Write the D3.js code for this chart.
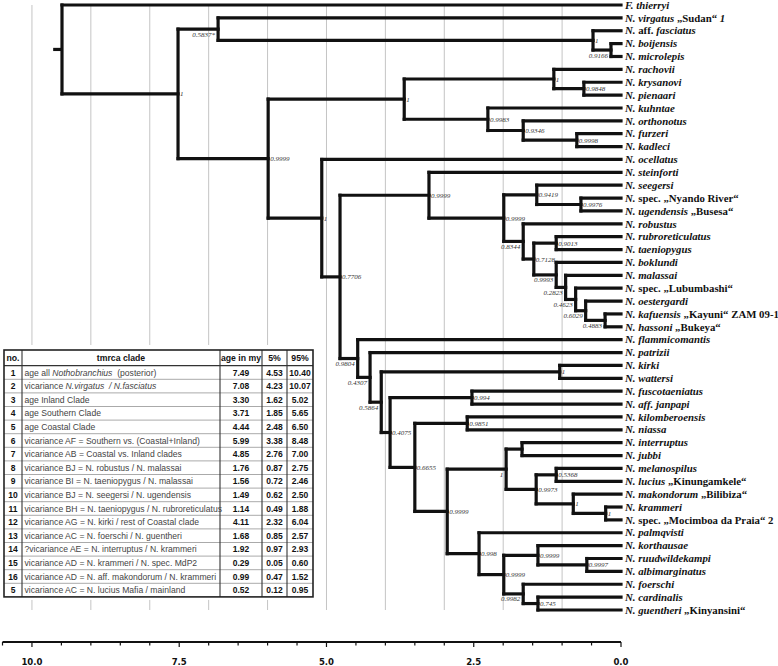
<!DOCTYPE html>
<html><head><meta charset="utf-8">
<script src="https://cdn.jsdelivr.net/npm/d3@7"></script>
<style>
html,body{margin:0;padding:0;background:#fff;}
svg{display:block;}
text{white-space:pre;}
</style></head>
<body>
<svg id="c" width="778" height="666"></svg>
<script>
// ---------- DATA ----------
const tipNames = [
 "_F. thierryi_","_N. virgatus_ „Sudan“ _1_","_N._ aff. _fasciatus_","_N. boijensis_","_N. microlepis_",
 "_N. rachovii_","_N. krysanovi_","_N. pienaari_","_N. kuhntae_","_N. orthonotus_","_N. furzeri_","_N. kadleci_",
 "_N. ocellatus_","_N. steinforti_","_N. seegersi_","_N._ spec. „Nyando River“","_N. ugendensis_ „Busesa“",
 "_N. robustus_","_N. rubroreticulatus_","_N. taeniopygus_","_N. boklundi_","_N. malassai_",
 "_N._ spec. „Lubumbashi“","_N. oestergardi_","_N. kafuensis_ „Kayuni“ ZAM 09-1","_N. hassoni_ „Bukeya“",
 "_N. flammicomantis_","_N. patrizii_","_N. kirki_","_N. wattersi_","_N. fuscotaeniatus_","_N. aff. janpapi_",
 "_N. kilomberoensis_","_N. niassa_","_N. interruptus_","_N. jubbi_","_N. melanospilus_",
 "_N. lucius_ „Kinungamkele“","_N. makondorum_ „Bilibiza“","_N. krammeri_","_N._ spec. „Mocimboa da Praia“ 2",
 "_N. palmqvisti_","_N. korthausae_","_N. ruudwildekampi_","_N. albimarginatus_","_N. foerschi_",
 "_N. cardinalis_","_N. guentheri_ „Kinyansini“"
];
// internal nodes: id, age (My), support label, children (numbers = tip index, strings = node id)
const nodeIds      = ["R","A","B","Fa","Fb","C","D","E","E2","F","F2","F3","G","H","S","T","U","W","V","X","Y","Z","Z2","Z3","Z4","Z5","I","J","K","K1","L","M","N","O","P","Q","Q1","Q2","Q3","Q4","Q5","Pm","Pn","Po","Pp","Pq","Pr"];
const nodeAges     = [9.49,7.52,6.84,0.475,0.17,5.99,3.68,1.14,0.63,2.26,1.66,0.75,5.08,4.77,3.26,1.99,1.43,0.68,1.66,1.48,1.10,1.10,0.94,0.77,0.60,0.27,4.47,4.26,4.07,1.04,3.92,2.53,3.50,2.61,2.95,1.95,1.68,1.44,1.10,0.81,0.26,2.41,1.99,1.41,0.58,1.66,1.41];
const nodeSupport  = ["","1","0.5837*","1","0.9166","0.9999","1","1","0.9848","0.9983","0.9346","0.9998","1","0.7706","0.9999","0.9999","0.9419","0.9976","0.8344","0.7128","0.9013","0.9993","0.2823","0.4623","0.6029","0.4883","0.9804","0.4307","0.5864","1","0.4075","0.994","0.6655","0.9851","0.9999","1","","0.9973","0.5368","1","1","0.998","0.9999","0.9999","0.9997","0.9982","0.745"];
const nodeChildren = [[0,"A"],["B","C"],[1,"Fa"],[2,"Fb"],[3,4],["D","G"],["E","F"],[5,"E2"],[6,7],[8,"F2"],[9,"F3"],[10,11],
 [12,"H"],["S","I"],[13,"T"],["U","V"],[14,"W"],[15,16],[17,"X"],["Y","Z"],[18,19],[20,"Z2"],[21,"Z3"],[22,"Z4"],[23,"Z5"],[24,25],
 [26,"J"],[27,"K"],["K1","L"],[28,29],["M","N"],[30,31],["O","P"],[32,33],["Q","Pm"],["Q1","Q2"],[34,35],["Q3","Q4"],[36,37],[38,"Q5"],[39,40],
 [41,"Pn"],["Po","Pq"],[42,"Pp"],[43,44],[45,"Pr"],[46,47]];
// support labels drawn below the incoming branch (left of node)
const belowLabelNodes = ["B","Fb","V","Z","Z2","Z3","Z4","Z5","I","J","K","Q","Pq"];

const axisTicks = [10.0, 7.5, 5.0, 2.5, 0.0];

const tableHead = ["no.","tmrca clade","age in my","5%","95%"];
const tableNo   = [1,2,3,4,5,6,7,8,9,10,11,12,13,14,15,16,5];
const tableClade = [
 "age all _Nothobranchius_  (posterior)",
 "vicariance _N.virgatus  / N.fasciatus_",
 "age Inland Clade","age Southern Clade","age Coastal Clade",
 "vicariance AF = Southern vs. (Coastal+Inland)",
 "vicariance AB = Coastal vs. Inland clades",
 "vicariance BJ = N. robustus / N. malassai",
 "vicariance BI = N. taeniopygus / N. malassai",
 "vicariance BJ = N. seegersi / N. ugendensis",
 "vicariance BH = N. taeniopygus / N. rubroreticulatus",
 "vicariance AG = N. kirki / rest of Coastal clade",
 "vicariance AC = N. foerschi / N. guentheri",
 "?vicariance AE = N. interruptus / N. krammeri",
 "vicariance AD = N. krammeri / N. spec. MdP2",
 "vicariance AD = N. aff. makondorum / N. krammeri",
 "vicariance AC = N. lucius Mafia / mainland"
];
const tableAge = ["7.49","7.08","3.30","3.71","4.44","5.99","4.85","1.76","1.56","1.49","1.14","4.11","1.68","1.92","0.29","0.99","0.52"];
const tableLo  = ["4.53","4.23","1.62","1.85","2.48","3.38","2.76","0.87","0.72","0.62","0.49","2.32","0.85","0.97","0.05","0.47","0.12"];
const tableHi  = ["10.40","10.07","5.02","5.65","6.50","8.48","7.00","2.75","2.46","2.50","1.88","6.04","2.57","2.93","0.60","1.52","0.95"];

// ---------- BUILD ----------
const svg = d3.select("#c");
const x = d3.scaleLinear().domain([10.5, 0]).range([2.5, 621]);
const y = d3.scaleLinear().domain([0, tipNames.length - 1]).range([5, 610]);

const nodeMap = {};
nodeIds.forEach((id,i)=> nodeMap[id] = {id, age:nodeAges[i], sup:nodeSupport[i], kids:nodeChildren[i]});
function build(ref){
  if (typeof ref === "number") return {tip:ref, name:tipNames[ref], age:0};
  const n = nodeMap[ref];
  return {id:n.id, age:n.age, sup:n.sup, children:n.kids.map(build)};
}
const root = d3.hierarchy(build("R"));
root.eachAfter(d=>{
  if (!d.children) d.yy = y(d.data.tip);
  else d.yy = (d.children[0].yy + d.children[d.children.length-1].yy)/2;
  d.xx = x(d.data.age);
});

// gridlines
const grid = svg.append("g");
grid.selectAll("line").data(d3.range(1, 11)).join("line")
  .attr("x1", d=>x(d)).attr("x2", d=>x(d)).attr("y1", 5).attr("y2", 610)
  .attr("stroke", "#c4c4c4").attr("stroke-width", 1);

// branches
const br = svg.append("g").attr("stroke","#111").attr("stroke-width",3.2).attr("fill","none").attr("stroke-linecap","square");
root.each(d=>{
  if (d.children){
    const a = d.children[0].yy, b = d.children[d.children.length-1].yy;
    br.append("line").attr("x1", d.xx).attr("x2", d.xx).attr("y1", a).attr("y2", b);
    d.children.forEach(c=>{
      br.append("line").attr("x1", d.xx).attr("x2", c.xx).attr("y1", c.yy).attr("y2", c.yy);
    });
  }
});
// root stub
br.append("line").attr("x1", x(root.data.age + 0.15)).attr("x2", root.xx).attr("y1", root.yy).attr("y2", root.yy).attr("stroke-linecap","butt");

// support labels
const sl = svg.append("g").attr("font-family","'Liberation Serif','Times New Roman',serif").attr("font-style","italic")
  .attr("font-size", 7).attr("fill","#333");
root.each(d=>{
  if (!d.children || !d.data.sup) return;
  if (belowLabelNodes.includes(d.data.id)){
    sl.append("text").attr("x", d.xx - 3).attr("y", d.yy + 7.5).attr("text-anchor","end").text(d.data.sup);
  } else {
    sl.append("text").attr("x", d.xx + 2).attr("y", d.yy + 2.5).text(d.data.sup);
  }
});

// rich text helper: "_" toggles italic
function rich(sel, str){
  const parts = str.split("_");
  parts.forEach((p,i)=>{
    if (!p) return;
    sel.append("tspan").attr("font-style", i%2===1 ? "italic" : "normal").text(p);
  });
}

// tip labels
const tl = svg.append("g").attr("font-family","'Liberation Serif','Times New Roman',serif").attr("font-weight","bold")
  .attr("font-size", 10.8).attr("fill","#111");
root.leaves().forEach(d=>{
  const t = tl.append("text").attr("x", 625).attr("y", d.yy + 3.7);
  rich(t, d.data.name);
});

// table
const tx = [4, 22, 220, 262, 287, 313];
const tTop = 350, hH = 15.7, rH = 13.6;
const tBot = tTop + hH + rH * tableNo.length;
const tg = svg.append("g");
tg.append("rect").attr("x", 0).attr("y", 345).attr("width", 318).attr("height", tBot - 345 + 3).attr("fill","#fff");
// row separators
tg.selectAll("line.row").data(d3.range(1, tableNo.length)).join("line")
  .attr("x1", tx[0]).attr("x2", tx[5]).attr("y1", i=>tTop+hH+i*rH).attr("y2", i=>tTop+hH+i*rH)
  .attr("stroke","#aaa").attr("stroke-width",1);
tg.append("line").attr("x1", tx[0]).attr("x2", tx[5]).attr("y1", tTop+hH).attr("y2", tTop+hH).attr("stroke","#333").attr("stroke-width",1.2);
tg.selectAll("line.col").data(tx.slice(1,5)).join("line")
  .attr("x1", d=>d).attr("x2", d=>d).attr("y1", tTop).attr("y2", tBot).attr("stroke","#333").attr("stroke-width",1.1);
tg.append("rect").attr("x", tx[0]).attr("y", tTop).attr("width", tx[5]-tx[0]).attr("height", tBot-tTop)
  .attr("fill","none").attr("stroke","#222").attr("stroke-width",1.6);

const tf = "'Liberation Sans',Arial,sans-serif";
const cen = i => (tx[i]+tx[i+1])/2;
tableHead.forEach((h,i)=>{
  tg.append("text").attr("x", cen(i)).attr("y", tTop + hH/2 + 3.2).attr("text-anchor","middle")
    .attr("font-family", tf).attr("font-weight","bold").attr("font-size", 8.7).attr("fill","#111").text(h);
});
tableNo.forEach((n,r)=>{
  const yy = tTop + hH + r*rH + rH/2 + 3.1;
  tg.append("text").attr("x", cen(0)).attr("y", yy).attr("text-anchor","middle").attr("font-family", tf)
    .attr("font-weight","bold").attr("font-size", 8.5).attr("fill","#111").text(n);
  const t = tg.append("text").attr("x", tx[1] + 2.5).attr("y", yy).attr("font-family", tf)
    .attr("font-size", 8.6).attr("fill","#444");
  rich(t, tableClade[r]);
  [tableAge, tableLo, tableHi].forEach((arr,k)=>{
    tg.append("text").attr("x", cen(k+2)).attr("y", yy).attr("text-anchor","middle").attr("font-family", tf)
      .attr("font-weight","bold").attr("font-size", 8.5).attr("fill","#111").text(arr[r]);
  });
});

// axis
const ay = 642;
const ax = svg.append("g");
ax.append("line").attr("x1", x(10.5)).attr("x2", x(0)).attr("y1", ay).attr("y2", ay).attr("stroke","#111").attr("stroke-width",1.8);
ax.selectAll("line.t").data(d3.range(0, 10.51, 0.5)).join("line")
  .attr("x1", d=>x(d)).attr("x2", d=>x(d)).attr("y1", ay).attr("y2", d=> axisTicks.includes(d) ? ay+5 : ay+3.5)
  .attr("stroke","#111").attr("stroke-width",1.2);
ax.selectAll("text").data(axisTicks).join("text")
  .attr("x", d=>x(d)).attr("y", 665).attr("text-anchor","middle")
  .attr("font-family","'Liberation Sans Narrow','DejaVu Sans Condensed','Liberation Sans',sans-serif")
  .attr("font-weight","bold").attr("font-size", 9.5).attr("fill","#111")
  .text(d=>d.toFixed(1));
</script>
</body></html>
